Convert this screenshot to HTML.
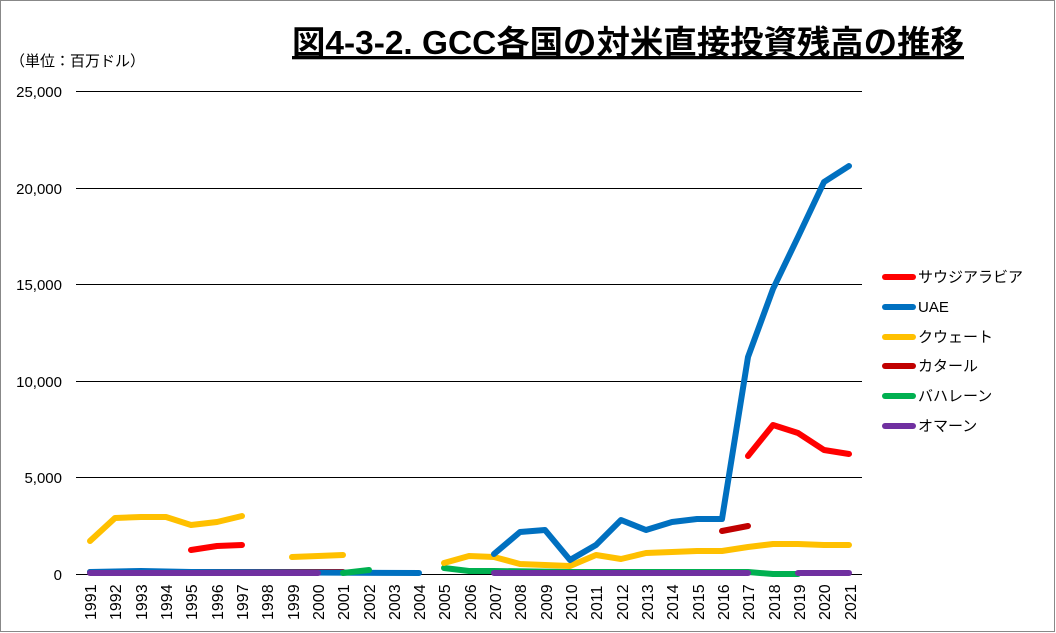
<!DOCTYPE html>
<html><head><meta charset="utf-8"><style>
body{margin:0;background:#fff}
svg{display:block;font-family:"Liberation Sans","Noto Sans CJK JP",sans-serif}
</style></head><body>
<svg width="1056" height="633" viewBox="0 0 1056 633">
<rect x="0.5" y="0.5" width="1054" height="631" fill="#fff" stroke="#888"/>
<text x="628" y="54" text-anchor="middle" font-size="33" font-weight="bold" text-decoration="underline" textLength="672" lengthAdjust="spacingAndGlyphs">図4-3-2. GCC各国の対米直接投資残高の推移</text>
<text x="10" y="66" font-size="15">（単位：百万ドル）</text>
<g stroke="#000" stroke-width="1">
<line x1="76" y1="91.5" x2="862" y2="91.5"/><line x1="76" y1="188.5" x2="862" y2="188.5"/>
<line x1="76" y1="284.5" x2="862" y2="284.5"/><line x1="76" y1="381.5" x2="862" y2="381.5"/>
<line x1="76" y1="477.5" x2="862" y2="477.5"/><line x1="76" y1="574.5" x2="862" y2="574.5"/>
</g>
<g font-size="15" text-anchor="end">
<text x="62" y="97">25,000</text><text x="62" y="194">20,000</text><text x="62" y="290">15,000</text>
<text x="62" y="387">10,000</text><text x="62" y="483">5,000</text><text x="62" y="580">0</text>
</g>
<g fill="none" stroke-width="6" stroke-linecap="round" stroke-linejoin="round">
<polyline stroke="#c00000" points="90,572 343,572"/>
<polyline stroke="#0070c0" points="90,572 141,571 191,572 419,573"/>
<polyline stroke="#00b050" points="343,573 369,570"/>
<polyline stroke="#00b050" points="444,568 469,571 494,571 570,572 722,572 748,572 773,574 798,574"/>
<polyline stroke="#7030a0" points="90,573 318,573"/>
<polyline stroke="#7030a0" points="494,573 748,573"/>
<polyline stroke="#7030a0" points="798,573 849,573"/>
<polyline stroke="#ffc000" points="90,541 115,518 141,517 166,517 191,525 217,522 242,516"/>
<polyline stroke="#ffc000" points="292,557 318,556 343,555"/>
<polyline stroke="#ffc000" points="444,563 469,556 494,557 520,564 545,565 570,566 596,555 621,559 646,553 672,552 697,551 722,551 748,547 773,544 798,544 824,545 849,545"/>
<polyline stroke="#ff0000" points="191,550 217,546 242,545"/>
<polyline stroke="#0070c0" points="494,554 520,532 545,530 570,560 596,545 621,520 646,530 672,522 697,519 722,519 748,357 773,289 798,237 824,182 849,166"/>
<polyline stroke="#c00000" points="722,531 748,526"/>
<polyline stroke="#ff0000" points="748,456 773,425 798,433 824,450 849,454"/>
</g>
<g stroke-width="6" stroke-linecap="round">
<line x1="885" y1="277" x2="913" y2="277" stroke="#ff0000"/>
<line x1="885" y1="307" x2="913" y2="307" stroke="#0070c0"/>
<line x1="885" y1="337" x2="913" y2="337" stroke="#ffc000"/>
<line x1="885" y1="366" x2="913" y2="366" stroke="#c00000"/>
<line x1="885" y1="396" x2="913" y2="396" stroke="#00b050"/>
<line x1="885" y1="426" x2="913" y2="426" stroke="#7030a0"/>
</g>
<g font-size="15">
<text x="918" y="282">サウジアラビア</text><text x="918" y="312">UAE</text>
<text x="918" y="342">クウェート</text><text x="918" y="371">カタール</text>
<text x="918" y="401">バハレーン</text><text x="918" y="431">オマーン</text>
</g>
<g font-size="16">
<text transform="translate(96,620) rotate(-90)">1991</text><text transform="translate(121,620) rotate(-90)">1992</text>
<text transform="translate(147,620) rotate(-90)">1993</text><text transform="translate(172,620) rotate(-90)">1994</text>
<text transform="translate(197,620) rotate(-90)">1995</text><text transform="translate(223,620) rotate(-90)">1996</text>
<text transform="translate(248,620) rotate(-90)">1997</text><text transform="translate(273,620) rotate(-90)">1998</text>
<text transform="translate(299,620) rotate(-90)">1999</text><text transform="translate(324,620) rotate(-90)">2000</text>
<text transform="translate(349,620) rotate(-90)">2001</text><text transform="translate(375,620) rotate(-90)">2002</text>
<text transform="translate(400,620) rotate(-90)">2003</text><text transform="translate(425,620) rotate(-90)">2004</text>
<text transform="translate(450,620) rotate(-90)">2005</text><text transform="translate(476,620) rotate(-90)">2006</text>
<text transform="translate(501,620) rotate(-90)">2007</text><text transform="translate(526,620) rotate(-90)">2008</text>
<text transform="translate(552,620) rotate(-90)">2009</text><text transform="translate(577,620) rotate(-90)">2010</text>
<text transform="translate(602,620) rotate(-90)">2011</text><text transform="translate(628,620) rotate(-90)">2012</text>
<text transform="translate(653,620) rotate(-90)">2013</text><text transform="translate(678,620) rotate(-90)">2014</text>
<text transform="translate(704,620) rotate(-90)">2015</text><text transform="translate(729,620) rotate(-90)">2016</text>
<text transform="translate(754,620) rotate(-90)">2017</text><text transform="translate(780,620) rotate(-90)">2018</text>
<text transform="translate(805,620) rotate(-90)">2019</text><text transform="translate(830,620) rotate(-90)">2020</text>
<text transform="translate(856,620) rotate(-90)">2021</text>
</g>
</svg>
</body></html>
